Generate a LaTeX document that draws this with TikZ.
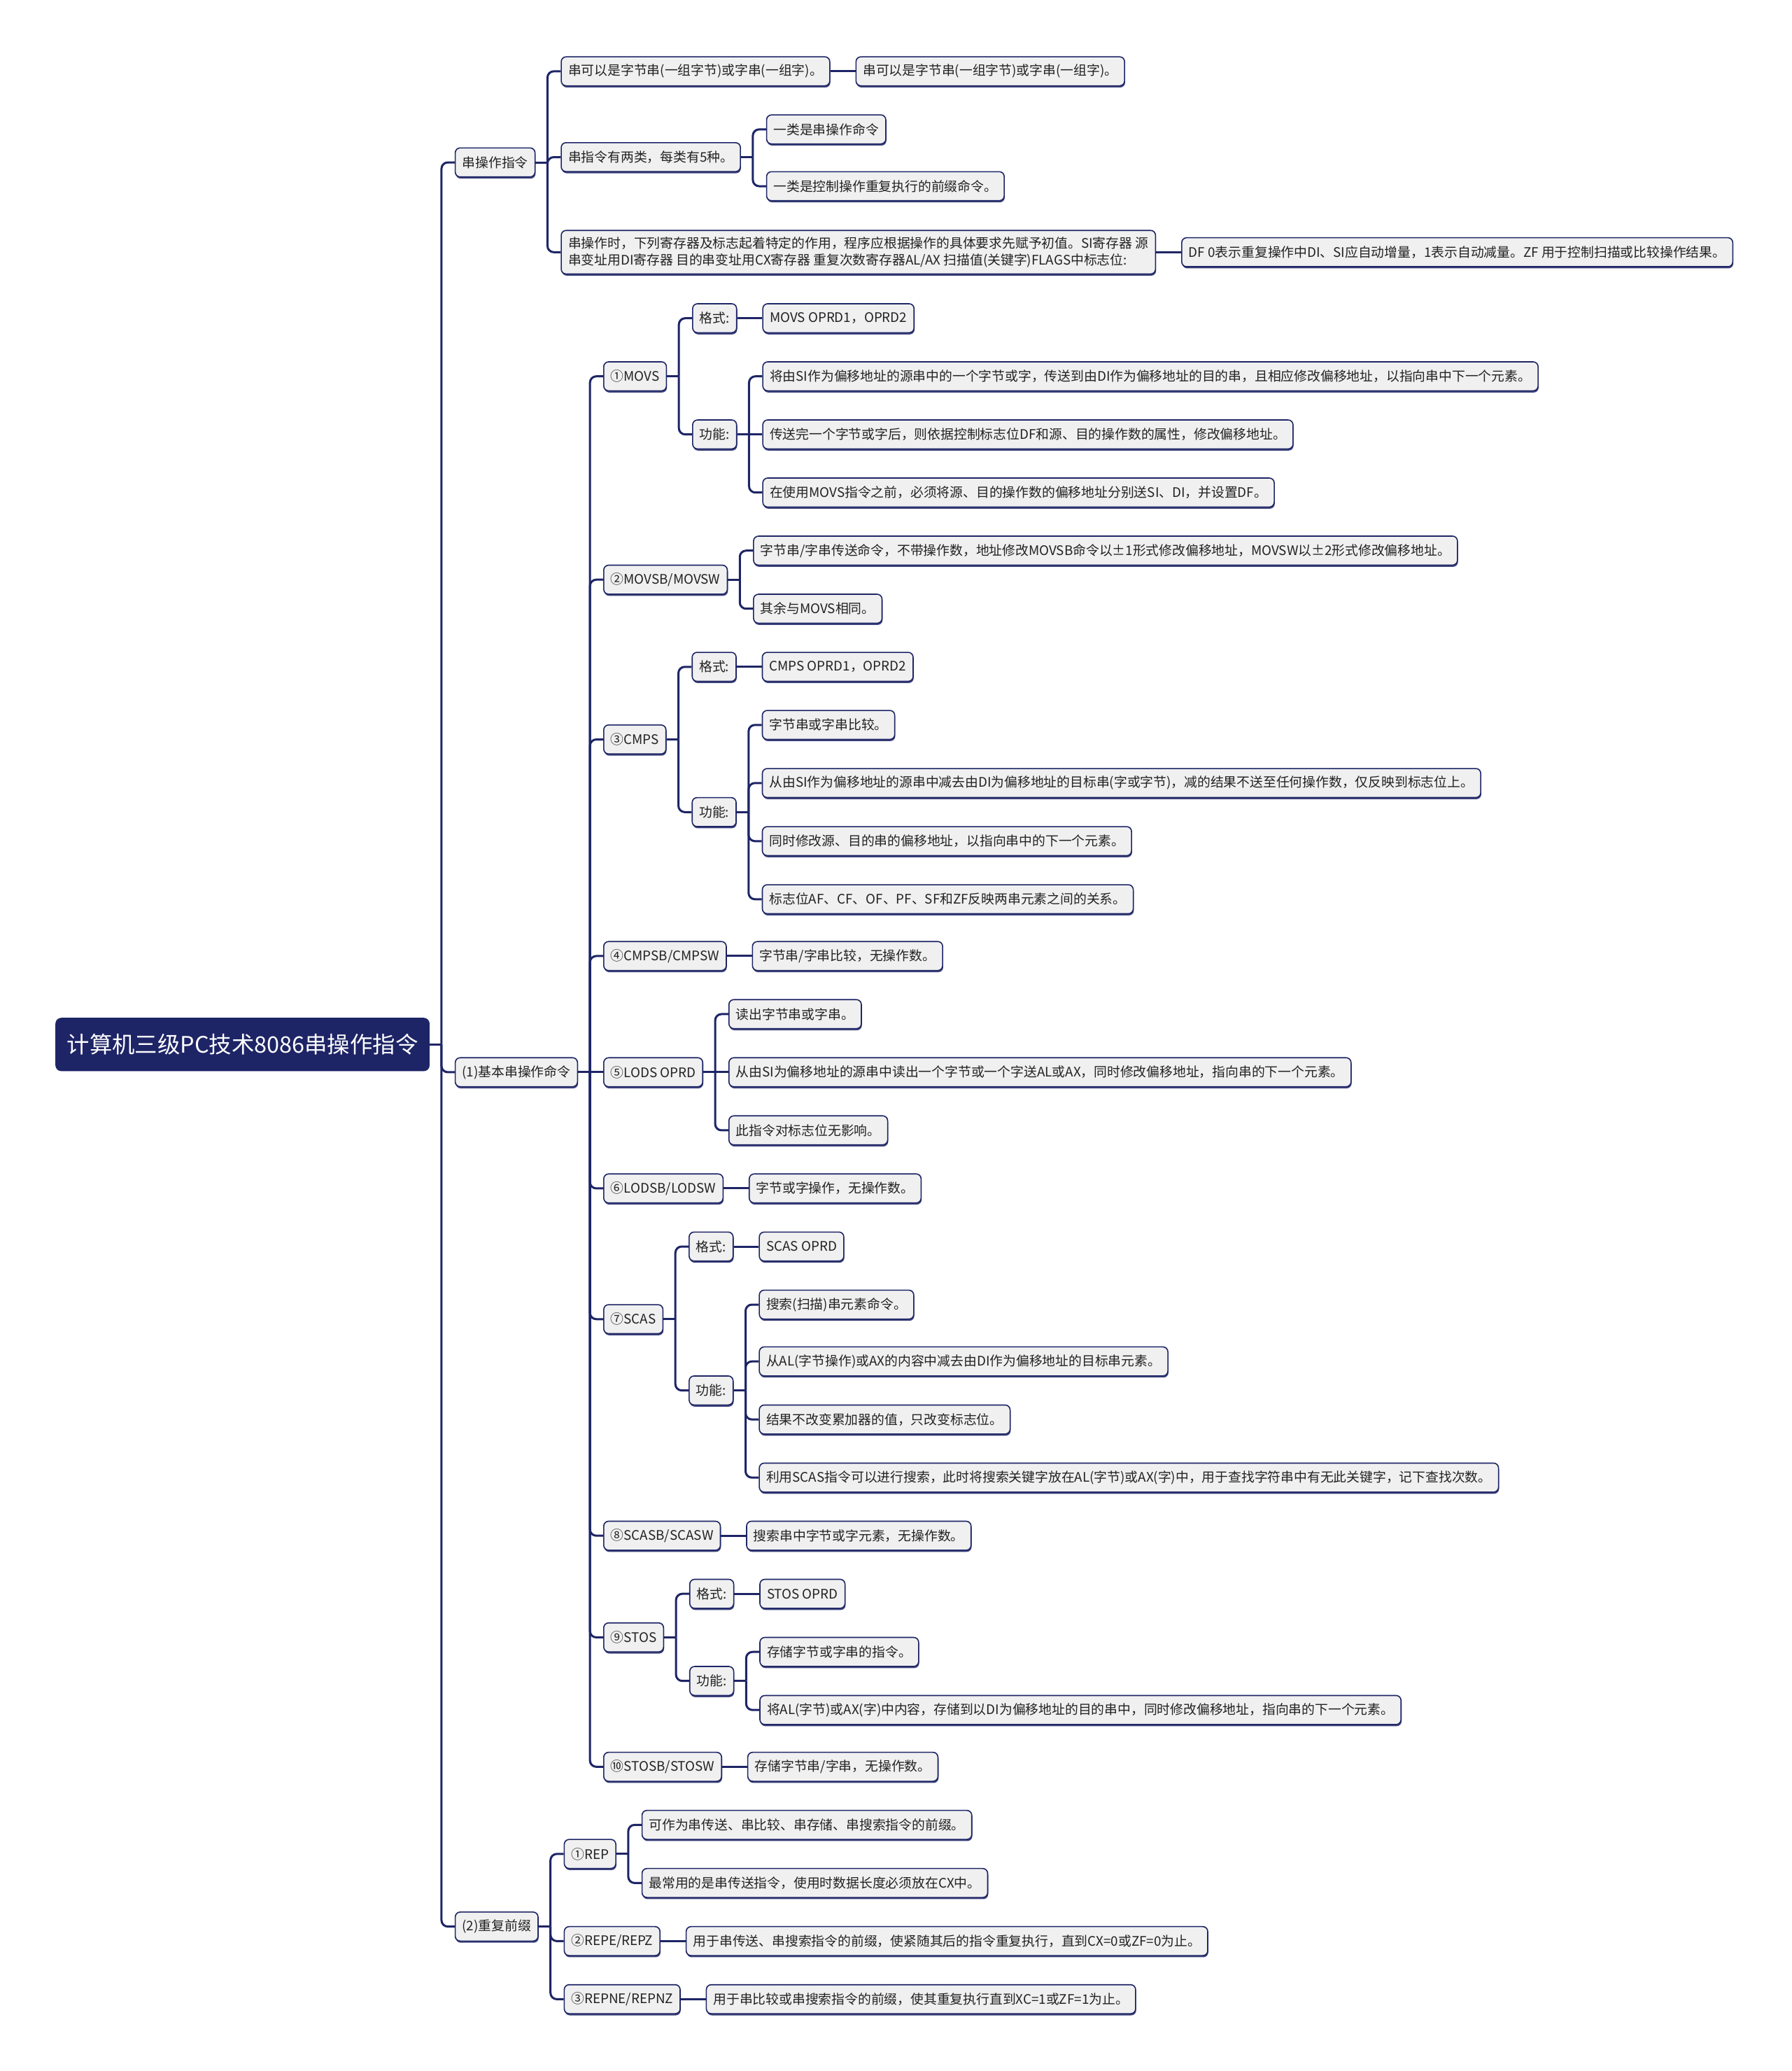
\documentclass[tikz,border=0pt]{standalone}
\usepackage{fontspec}
\setmainfont{Noto Sans CJK SC}
\usetikzlibrary{calc,shadows}
\definecolor{navy}{HTML}{1E2566}
\definecolor{boxfill}{HTML}{F0F0F0}
\definecolor{txt}{HTML}{222222}
\tikzset{
  box/.style={draw=navy, line width=0.8pt, fill=boxfill, rounded corners=3.5pt,
    inner xsep=5pt, inner ysep=2pt, minimum height=20.7pt, text=txt,
    font=\fontsize{9.4}{12.3}\selectfont, anchor=west,
    drop shadow={shadow xshift=0.4pt, shadow yshift=-1.2pt, fill=navy, opacity=0.85}},
  rootbox/.style={fill=navy, draw=navy, rounded corners=4pt, text=white,
    font=\fontsize{16.2}{19}\selectfont, minimum height=37.7pt, inner xsep=8pt, anchor=west},
  conn/.style={draw=navy, line width=1.5pt},
}
\newcommand\kid[5][]{%
  \path (#2.east) ++(19,0) coordinate (#3-x);
  \node[box,#1] (#3) at (#3-x |- 0,#4) {#5};
  \draw[conn] (#2.east) -- ++(9,0);
  \draw[conn,rounded corners=4.5pt] ($(#2.east)+(9,0)$) |- (#3.west);}
\newcommand\kidS[4][]{%
  \path (#2.east) ++(19,0) coordinate (#3-x);
  \node[box,#1] (#3) at (#3-x) {#4};
  \draw[conn] (#2.east) -- (#3.west);}
\begin{document}
\begin{tikzpicture}[x=0.9433pt,y=-0.9433pt]
\fill[white] (0,0) rectangle (1357,1568.4);
\useasboundingbox (0,0) rectangle (1357,1568.4);
\node[rootbox] (root) at (42,791) {计算机三级PC技术8086串操作指令};
\kid{root}{s}{123}{串操作指令}
\kid{root}{b}{812}{(1)基本串操作命令}
\kid{root}{r}{1459}{(2)重复前缀}
% 串操作指令
\kid{s}{s1}{54}{串可以是字节串(一组字节)或字串(一组字)。}
\kidS{s1}{s1a}{串可以是字节串(一组字节)或字串(一组字)。}
\kid{s}{s2}{119}{串指令有两类，每类有5种。}
\kid{s2}{s2a}{98}{一类是串操作命令}
\kid{s2}{s2b}{141}{一类是控制操作重复执行的前缀命令。}
\kid[align=left,inner ysep=4.5pt]{s}{s3}{191}{串操作时，下列寄存器及标志起着特定的作用，程序应根据操作的具体要求先赋予初值。SI寄存器 源\\串变址用DI寄存器 目的串变址用CX寄存器 重复次数寄存器AL/AX 扫描值(关键字)FLAGS中标志位:}
\kidS{s3}{s3a}{DF 0表示重复操作中DI、SI应自动增量，1表示自动减量。ZF 用于控制扫描或比较操作结果。}
% (1)
\kid{b}{m1}{285}{①MOVS}
\kid{m1}{m1f}{241}{格式:}
\kidS{m1f}{m1fa}{MOVS OPRD1，OPRD2}
\kid{m1}{m1g}{329}{功能:}
\kid{m1g}{m1g1}{285}{将由SI作为偏移地址的源串中的一个字节或字，传送到由DI作为偏移地址的目的串，且相应修改偏移地址，以指向串中下一个元素。}
\kidS{m1g}{m1g2}{传送完一个字节或字后，则依据控制标志位DF和源、目的操作数的属性，修改偏移地址。}
\kid{m1g}{m1g3}{373}{在使用MOVS指令之前，必须将源、目的操作数的偏移地址分别送SI、DI，并设置DF。}
\kid{b}{m2}{439}{②MOVSB/MOVSW}
\kid{m2}{m2a}{417}{字节串/字串传送命令，不带操作数，地址修改MOVSB命令以±1形式修改偏移地址，MOVSW以±2形式修改偏移地址。}
\kid{m2}{m2b}{461}{其余与MOVS相同。}
\kid{b}{c3}{560}{③CMPS}
\kid{c3}{c3f}{505}{格式:}
\kidS{c3f}{c3fa}{CMPS OPRD1，OPRD2}
\kid{c3}{c3g}{615}{功能:}
\kid{c3g}{c3g1}{549}{字节串或字串比较。}
\kid{c3g}{c3g2}{593}{从由SI作为偏移地址的源串中减去由DI为偏移地址的目标串(字或字节)，减的结果不送至任何操作数，仅反映到标志位上。}
\kid{c3g}{c3g3}{637}{同时修改源、目的串的偏移地址，以指向串中的下一个元素。}
\kid{c3g}{c3g4}{681}{标志位AF、CF、OF、PF、SF和ZF反映两串元素之间的关系。}
\kid{b}{c4}{724}{④CMPSB/CMPSW}
\kidS{c4}{c4a}{字节串/字串比较，无操作数。}
\kidS{b}{l5}{⑤LODS OPRD}
\kid{l5}{l5a}{768}{读出字节串或字串。}
\kidS{l5}{l5b}{从由SI为偏移地址的源串中读出一个字节或一个字送AL或AX，同时修改偏移地址，指向串的下一个元素。}
\kid{l5}{l5c}{856}{此指令对标志位无影响。}
\kid{b}{l6}{900}{⑥LODSB/LODSW}
\kidS{l6}{l6a}{字节或字操作，无操作数。}
\kid{b}{s7}{999}{⑦SCAS}
\kid{s7}{s7f}{944}{格式:}
\kidS{s7f}{s7fa}{SCAS OPRD}
\kid{s7}{s7g}{1053}{功能:}
\kid{s7g}{s7g1}{988}{搜索(扫描)串元素命令。}
\kid{s7g}{s7g2}{1031}{从AL(字节操作)或AX的内容中减去由DI作为偏移地址的目标串元素。}
\kid{s7g}{s7g3}{1075}{结果不改变累加器的值，只改变标志位。}
\kid{s7g}{s7g4}{1119}{利用SCAS指令可以进行搜索，此时将搜索关键字放在AL(字节)或AX(字)中，用于查找字符串中有无此关键字，记下查找次数。}
\kid{b}{s8}{1163}{⑧SCASB/SCASW}
\kidS{s8}{s8a}{搜索串中字节或字元素，无操作数。}
\kid{b}{t9}{1240}{⑨STOS}
\kid{t9}{t9f}{1207}{格式:}
\kidS{t9f}{t9fa}{STOS OPRD}
\kid{t9}{t9g}{1273}{功能:}
\kid{t9g}{t9g1}{1251}{存储字节或字串的指令。}
\kid{t9g}{t9g2}{1295}{将AL(字节)或AX(字)中内容，存储到以DI为偏移地址的目的串中，同时修改偏移地址，指向串的下一个元素。}
\kid{b}{t10}{1338}{⑩STOSB/STOSW}
\kidS{t10}{t10a}{存储字节串/字串，无操作数。}
% (2)
\kid{r}{p1}{1404}{①REP}
\kid{p1}{p1a}{1382}{可作为串传送、串比较、串存储、串搜索指令的前缀。}
\kid{p1}{p1b}{1426}{最常用的是串传送指令，使用时数据长度必须放在CX中。}
\kid{r}{p2}{1470}{②REPE/REPZ}
\kidS{p2}{p2a}{用于串传送、串搜索指令的前缀，使紧随其后的指令重复执行，直到CX=0或ZF=0为止。}
\kid{r}{p3}{1514}{③REPNE/REPNZ}
\kidS{p3}{p3a}{用于串比较或串搜索指令的前缀，使其重复执行直到XC=1或ZF=1为止。}
\end{tikzpicture}
\end{document}
